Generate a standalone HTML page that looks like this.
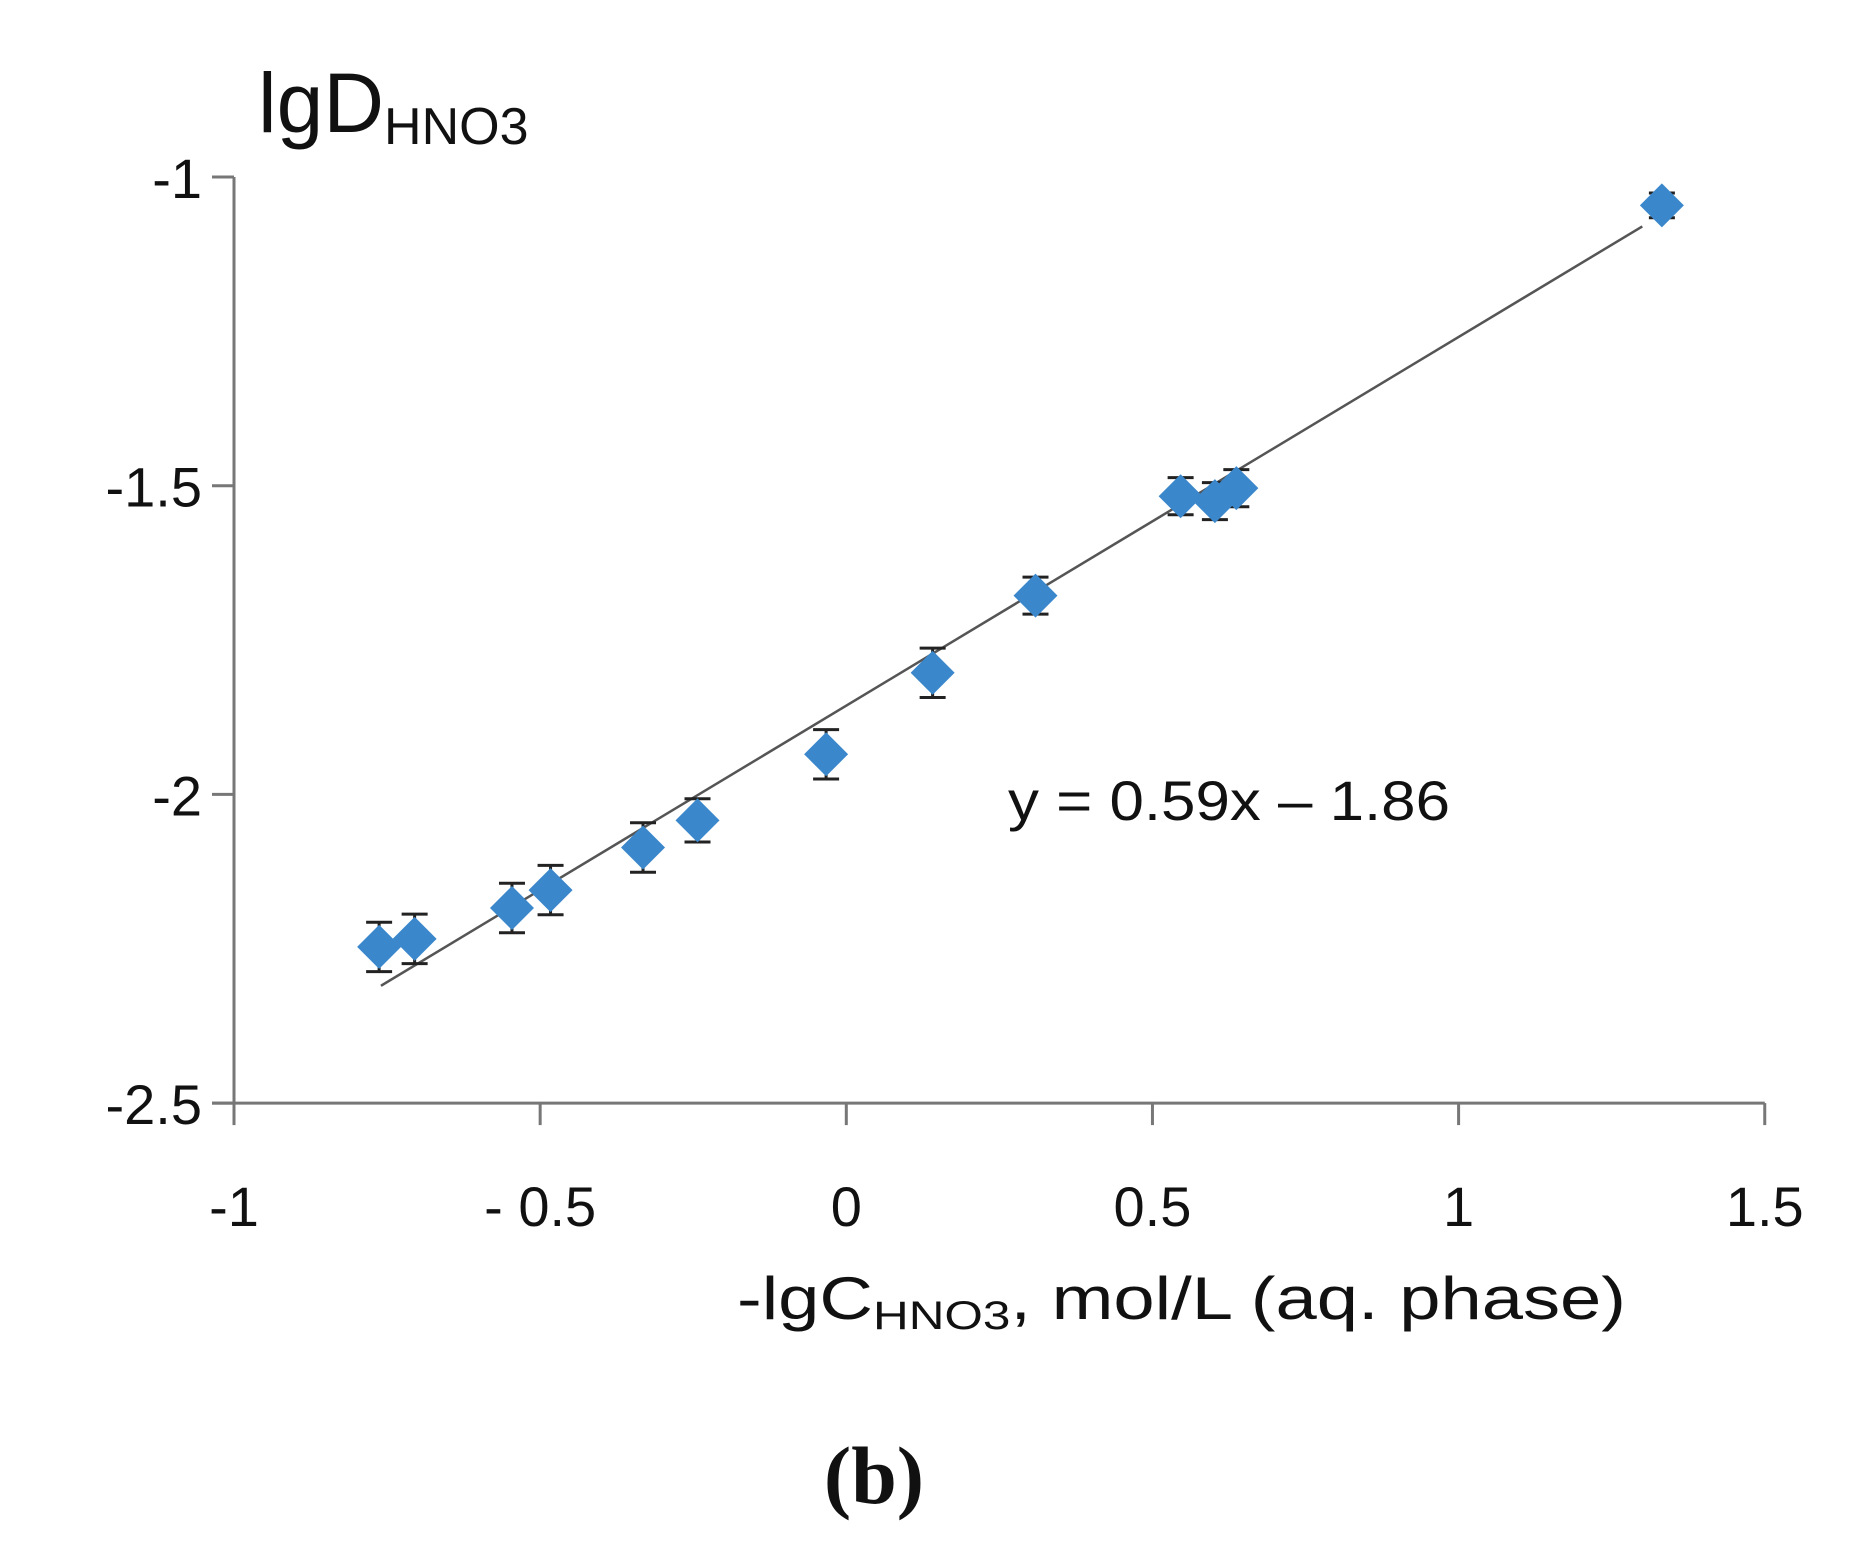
<!DOCTYPE html>
<html><head><meta charset="utf-8"><style>
html,body{margin:0;padding:0;background:#fff;}
svg{display:block;font-family:"Liberation Sans",sans-serif;}
</style></head><body>
<svg id="chart" width="1854" height="1557" viewBox="0 0 1854 1557" xmlns="http://www.w3.org/2000/svg">
<rect width="1854" height="1557" fill="#fff"/>
<g id="axes"></g>
<g id="fit"></g>
<g id="errs"></g>
<g id="pts"></g>
<text x="258" y="132" font-size="84" fill="#111">lgD<tspan font-size="52" dy="12">HNO3</tspan></text>
<text x="737" y="1319" font-size="60" fill="#111" textLength="889" lengthAdjust="spacingAndGlyphs">-lgC<tspan font-size="40" dy="10">HNO3</tspan><tspan dy="-10">, mol/L (aq. phase)</tspan></text>
<text x="1008" y="820" font-size="56" fill="#111" textLength="442" lengthAdjust="spacingAndGlyphs">y = 0.59x – 1.86</text>
<text x="874" y="1503" font-size="82" font-weight="bold" text-anchor="middle" fill="#111" font-family="Liberation Serif, serif">(b)</text>
</svg>
<script>
const xVals = [-0.763,-0.705,-0.546,-0.483,-0.332,-0.243,-0.033,0.141,0.309,0.546,0.602,0.637,1.332];
const yVals = [-2.247,-2.234,-2.184,-2.155,-2.086,-2.042,-1.935,-1.803,-1.678,-1.517,-1.525,-1.504,-1.046];
const yErr = [0.04,0.04,0.04,0.04,0.04,0.035,0.04,0.04,0.03,0.03,0.03,0.03,0.02];
const xTicks = [-1,-0.5,0,0.5,1,1.5];
const xTickLabels = ["-1","- 0.5","0","0.5","1","1.5"];
const yTicks = [-1,-1.5,-2,-2.5];
const yTickLabels = ["-1","-1.5","-2","-2.5"];
const fitX = [-0.76,1.30];
const fitY = [-2.31,-1.08];

const NS="http://www.w3.org/2000/svg";
const XS=612.3, YS=617.4;
function X(v){return 234+(v+1)*XS;}
function Y(v){return 177+(-1-v)*YS;}
function mk(tag,attrs,parent){const e=document.createElementNS(NS,tag);for(const k in attrs)e.setAttribute(k,attrs[k]);parent.appendChild(e);return e;}
const ax=document.getElementById('axes');
let l=mk('line',{x1:X(-1),y1:Y(-1),x2:X(-1),y2:Y(-2.5),stroke:'#777','stroke-width':3},ax);


l=mk('line',{x1:X(-1)-22,y1:Y(-2.5),x2:X(1.5),y2:Y(-2.5),stroke:'#777','stroke-width':3},ax);


xTicks.forEach((t,i)=>{
 const tk=mk('line',{x1:X(t),y1:Y(-2.5),x2:X(t),y2:Y(-2.5)+22,stroke:'#777','stroke-width':3},ax);
 
 
 const tx=mk('text',{x:X(t),y:1226,'font-size':56,'text-anchor':'middle',fill:'#111'},ax);
 tx.textContent=xTickLabels[i];
 
 
});
yTicks.forEach((t,i)=>{
 const tk=mk('line',{x1:X(-1)-22,y1:Y(t),x2:X(-1),y2:Y(t),stroke:'#777','stroke-width':3},ax);
 
 
 const tx=mk('text',{x:202,y:Y(t)+21,'font-size':56,'text-anchor':'end',fill:'#111'},ax);
 tx.textContent=yTickLabels[i];
 
 
});
const fl=mk('line',{x1:X(fitX[0]),y1:Y(fitY[0]),x2:X(fitX[1]),y2:Y(fitY[1]),stroke:'#555','stroke-width':2.5},document.getElementById('fit'));


const eg=document.getElementById('errs'), pg=document.getElementById('pts');
xVals.forEach((xv,i)=>{
 const cx=X(xv), cy=Y(yVals[i]), e=yErr[i]*YS;
 const g=mk('g',{stroke:'#222','stroke-width':3},eg);
 
 
 mk('line',{x1:cx,y1:cy-e,x2:cx,y2:cy+e},g);
 mk('line',{x1:cx-13,y1:cy-e,x2:cx+13,y2:cy-e},g);
 mk('line',{x1:cx-13,y1:cy+e,x2:cx+13,y2:cy+e},g);
 const s=22;
 const p=mk('polygon',{points:`${cx},${cy-s} ${cx+s},${cy} ${cx},${cy+s} ${cx-s},${cy}`,fill:'#3a87cc'},pg);
 
 
});
</script>
</body></html>
